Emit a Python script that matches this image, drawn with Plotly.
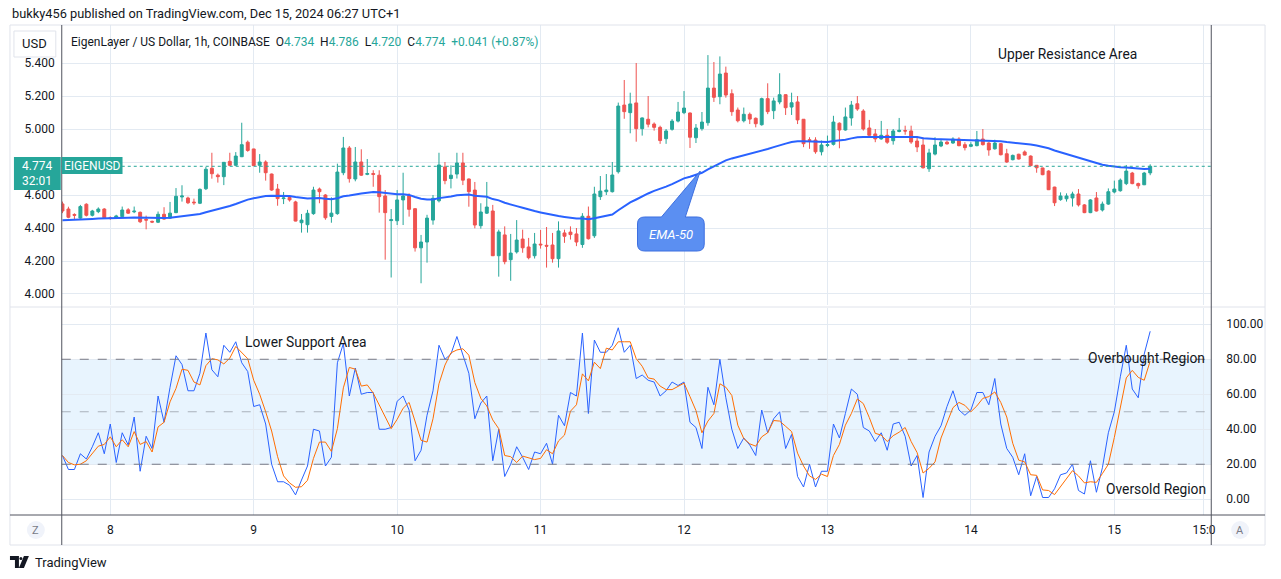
import numpy as np
import pandas as pd
import plotly.graph_objects as go

W, H = 1281, 579
def px(x): return x / W
def py(y): return 1 - y / H

# ---------------- data ----------------
start_time = "2024-12-07 16:00"

open_ = [4.546,4.515,4.482,4.46,4.544,4.477,4.499,4.515,4.462,4.459,4.469,4.51,4.498,4.495,4.452,4.44,4.435,4.483,4.46,4.493,
 4.588,4.582,4.557,4.55,4.638,4.762,4.72,4.711,4.804,4.78,4.832,4.92,4.879,4.78,4.80,4.727,4.636,4.578,4.585,4.558,
 4.432,4.42,4.487,4.636,4.60,4.47,4.487,4.735,4.885,4.697,4.80,4.725,4.73,4.72,4.594,4.445,4.444,4.57,4.596,4.517,
 4.28,4.315,4.448,4.565,4.77,4.70,4.727,4.794,4.697,4.63,4.414,4.49,4.503,4.232,4.358,4.208,4.255,4.333,4.285,4.232,
 4.302,4.295,4.297,4.214,4.37,4.375,4.364,4.30,4.471,4.353,4.59,4.62,4.62,4.741,5.145,5.099,5.158,5.002,5.059,5.03,
 5.01,4.941,4.998,5.048,5.099,5.097,4.947,5.002,5.038,5.248,5.196,5.339,5.214,5.115,5.05,5.089,5.065,5.026,5.184,5.111,
 5.164,5.208,5.133,5.164,5.059,4.935,4.933,4.862,4.90,4.907,5.035,4.994,5.067,5.153,5.109,5.006,4.97,4.94,4.962,4.929,
 4.985,4.99,4.988,4.927,4.903,4.759,4.848,4.897,4.92,4.915,4.939,4.905,4.895,4.899,4.939,4.915,4.88,4.911,4.85,4.814,
 4.847,4.861,4.836,4.78,4.764,4.745,4.648,4.572,4.577,4.582,4.606,4.54,4.493,4.582,4.509,4.545,4.618,4.626,4.669,4.733,
 4.669,4.662,4.734]
high_ = [4.56,4.529,4.489,4.54,4.55,4.51,4.525,4.52,4.47,4.48,4.53,4.52,4.53,4.50,4.475,4.445,4.50,4.526,4.558,4.642,
 4.659,4.59,4.578,4.64,4.77,4.856,4.73,4.80,4.856,4.86,5.038,4.93,4.88,4.848,4.81,4.73,4.667,4.618,4.59,4.565,
 4.485,4.51,4.65,4.645,4.605,4.586,4.79,4.952,4.897,4.891,4.877,4.818,4.75,4.75,4.63,4.515,4.63,4.735,4.61,4.52,
 4.358,4.48,4.60,4.856,4.80,4.78,4.856,4.856,4.70,4.679,4.55,4.679,4.54,4.39,4.41,4.364,4.448,4.39,4.34,4.37,
 4.388,4.406,4.37,4.44,4.39,4.41,4.40,4.49,4.53,4.65,4.715,4.727,4.80,5.16,5.297,5.22,5.40,5.07,5.20,5.04,
 5.02,5.0,5.06,5.164,5.23,5.10,5.03,5.103,5.448,5.406,5.44,5.378,5.24,5.13,5.13,5.10,5.07,5.19,5.277,5.19,
 5.338,5.21,5.22,5.20,5.06,4.95,4.95,4.93,4.96,5.08,5.04,5.13,5.17,5.20,5.12,5.055,5.0,5.049,5.0,5.0,
 5.067,5.02,5.02,4.95,4.95,4.88,4.95,4.94,4.93,4.95,4.95,4.92,4.92,4.988,5.0,4.92,4.935,4.915,4.88,4.845,
 4.85,4.87,4.84,4.78,4.765,4.75,4.65,4.616,4.61,4.62,4.636,4.545,4.575,4.618,4.56,4.64,4.687,4.70,4.782,4.74,
 4.675,4.74,4.786]
low_ = [4.49,4.459,4.453,4.455,4.47,4.47,4.49,4.455,4.45,4.455,4.462,4.485,4.49,4.43,4.392,4.43,4.43,4.45,4.455,4.49,
 4.56,4.545,4.54,4.545,4.63,4.699,4.675,4.66,4.775,4.775,4.83,4.862,4.775,4.735,4.687,4.625,4.535,4.545,4.56,4.44,
 4.372,4.372,4.48,4.55,4.45,4.432,4.48,4.72,4.675,4.683,4.715,4.72,4.65,4.493,4.208,4.10,4.418,4.418,4.469,4.257,
 4.065,4.19,4.42,4.555,4.665,4.64,4.70,4.66,4.529,4.398,4.396,4.485,4.23,4.105,4.18,4.08,4.245,4.25,4.21,4.215,
 4.275,4.16,4.19,4.16,4.31,4.33,4.29,4.28,4.33,4.34,4.57,4.60,4.615,4.73,5.062,4.974,4.923,4.96,5.01,4.99,
 4.91,4.91,4.99,5.04,5.09,4.885,4.915,4.99,5.02,5.164,5.15,5.19,5.08,5.04,5.04,5.03,5.01,5.02,5.09,5.06,
 5.15,5.085,5.085,5.03,4.89,4.88,4.85,4.84,4.89,4.90,4.883,4.99,5.02,5.11,4.99,4.96,4.92,4.935,4.91,4.905,
 4.98,4.965,4.91,4.86,4.76,4.74,4.84,4.89,4.905,4.91,4.895,4.87,4.89,4.895,4.90,4.838,4.875,4.84,4.795,4.81,
 4.815,4.84,4.775,4.735,4.72,4.63,4.533,4.565,4.56,4.53,4.53,4.49,4.49,4.50,4.50,4.54,4.61,4.62,4.66,4.665,
 4.638,4.66,4.72]
close_ = [4.503,4.465,4.477,4.53,4.477,4.503,4.515,4.462,4.458,4.473,4.509,4.49,4.502,4.438,4.448,4.436,4.483,4.454,4.49,4.592,
 4.594,4.553,4.553,4.634,4.756,4.729,4.711,4.798,4.78,4.836,4.905,4.87,4.778,4.80,4.735,4.63,4.578,4.582,4.57,4.442,
 4.448,4.489,4.63,4.62,4.462,4.49,4.739,4.885,4.699,4.80,4.72,4.73,4.725,4.59,4.493,4.45,4.57,4.594,4.513,4.28,
 4.315,4.46,4.58,4.782,4.687,4.72,4.794,4.69,4.62,4.418,4.497,4.527,4.232,4.376,4.196,4.248,4.327,4.28,4.22,4.303,
 4.298,4.29,4.214,4.382,4.35,4.36,4.315,4.471,4.335,4.606,4.624,4.63,4.721,5.139,5.105,5.152,5.002,5.067,5.029,5.01,
 4.93,4.988,5.048,5.103,5.127,4.95,5.006,5.042,5.248,5.192,5.333,5.206,5.105,5.05,5.089,5.06,5.032,5.184,5.105,5.17,
 5.208,5.129,5.159,5.055,4.911,4.930,4.862,4.903,4.905,5.042,4.994,5.073,5.145,5.121,5.0,4.962,4.94,4.962,4.92,4.988,
 4.992,4.988,4.921,4.891,4.765,4.855,4.903,4.921,4.91,4.939,4.899,4.887,4.905,4.935,4.905,4.873,4.915,4.844,4.80,4.84,
 4.818,4.842,4.778,4.765,4.723,4.632,4.553,4.594,4.594,4.606,4.54,4.493,4.57,4.503,4.545,4.62,4.636,4.69,4.745,4.669,
 4.656,4.733,4.774]

ema_length = 50
ema_seed = 4.445   # EMA value just before the first visible bar

stoch_k = [25,17,17,26,23,30,38,26,43,21,38,31,47,16,36,29,59,44,64,82,
 77,62,62,72,95,74,70,88,84,90,78,73,53,54,43,20,10,10,8,2.5,
 11,19,40,39,19,24,78,89,59,75,60,61,61,40,40,41,56,59,51,22,
 28,48,62,88,80,83,93,82,72,46,55,59,22,40,13,20,30,24,17,27,
 26,32,20,48,42,61,59,95,49,91,84,84,88,98,84,88,69,71,68,67,
 59,62,67,65,67,44,41,29,64,54,80,58,40,29,35,31,25,51,38,46,
 50,29,37,13,7,20,7,16,16,43,35,49,63,60,41,39,33,38,28,43,
 44,36,19,25,1,27,36,42,53,62,51,48,51,61,61,54,69,43,29,24,
 14,26,2,13,1,1,6,14,15,20,5,3,22,4,18,38,50,70,88,63,
 58,83,96]

day_ticks = ["2024-12-08","2024-12-09","2024-12-10","2024-12-11","2024-12-12","2024-12-13","2024-12-14","2024-12-15","2024-12-15 15:00"]
day_labels = ["8","9","10","11","12","13","14","15","15:0"]
price_ticks = [4.0, 4.2, 4.4, 4.6, 4.8, 5.0, 5.2, 5.4]
price_labels = ["4.000", "4.200", "4.400", "4.600", "", "5.000", "5.200", "5.400"]  # 4.800 hidden under last-price tag
stoch_ticks = [0, 20, 40, 60, 80, 100]

last_price = 4.774

# ---------------- derived ----------------
times = pd.date_range(start_time, periods=len(close_), freq="h")
alpha = 2.0 / (ema_length + 1)
ema = []
prev = ema_seed
for c in close_:
    prev = prev + alpha * (c - prev)
    ema.append(prev)
stoch_d = pd.Series(stoch_k).rolling(3, min_periods=1).mean().tolist()

UP, DN = "#26a69a", "#ef5350"
GRID = "#e3eaf2"
TXT = "#131722"
FONT = "Roboto"

x_start = pd.Timestamp(start_time) - pd.Timedelta(minutes=7)
x_end = pd.Timestamp("2024-12-15 16:13")

fig = go.Figure()
fig.add_trace(go.Candlestick(
    x=times, open=open_, high=high_, low=low_, close=close_,
    increasing=dict(line=dict(color=UP, width=1), fillcolor=UP),
    decreasing=dict(line=dict(color=DN, width=1), fillcolor=DN),
    whiskerwidth=0, xaxis="x", yaxis="y", hoverinfo="skip", showlegend=False))
fig.add_trace(go.Scatter(x=times, y=ema, mode="lines", line=dict(color="#2962ff", width=2),
                         xaxis="x", yaxis="y", hoverinfo="skip"))
fig.add_trace(go.Scatter(x=times, y=stoch_k, mode="lines", line=dict(color="#2962ff", width=1),
                         xaxis="x2", yaxis="y2", hoverinfo="skip"))
fig.add_trace(go.Scatter(x=times, y=stoch_d, mode="lines", line=dict(color="#ff6d00", width=1),
                         xaxis="x2", yaxis="y2", hoverinfo="skip"))

shapes = []
# stochastic band
shapes.append(dict(type="rect", xref="paper", yref="y2", x0=px(62), x1=px(1216), y0=20, y1=80,
                   fillcolor="rgba(33,150,243,0.1)", line=dict(width=0), layer="below"))
for lvl, col in [(80, "#787b86"), (20, "#787b86"), (50, "rgba(120,123,134,0.55)")]:
    shapes.append(dict(type="line", xref="paper", yref="y2", x0=px(62), x1=px(1216), y0=lvl, y1=lvl,
                       line=dict(color=col, width=1, dash="dash")))
# last price dotted line
shapes.append(dict(type="line", xref="paper", yref="y", x0=px(62), x1=px(1216), y0=last_price, y1=last_price,
                   line=dict(color=UP, width=1, dash="dot")))
# frame
shapes.append(dict(type="rect", xref="paper", yref="paper", x0=px(10), x1=px(1270), y0=py(545), y1=py(25),
                   line=dict(color="#e0e3eb", width=1), fillcolor="rgba(0,0,0,0)"))
# pane separators
shapes.append(dict(type="line", xref="paper", yref="paper", x0=px(10), x1=px(1270), y0=py(307), y1=py(307),
                   line=dict(color="#e0e3eb", width=1)))
shapes.append(dict(type="line", xref="paper", yref="paper", x0=px(10), x1=px(1270), y0=py(515), y1=py(515),
                   line=dict(color="#50535e", width=1)))
shapes.append(dict(type="line", xref="paper", yref="paper", x0=px(62), x1=px(62), y0=py(545), y1=py(25),
                   line=dict(color="#50535e", width=1)))
shapes.append(dict(type="line", xref="paper", yref="paper", x0=px(1216), x1=px(1216), y0=py(545), y1=py(25),
                   line=dict(color="#50535e", width=1)))

def P(x, y):
    return f"{px(x):.5f},{py(y):.5f}"

# EMA-50 callout
callout = ("M " + P(647, 217) + " L " + P(664, 217) + " L " + P(703, 171) + " L " + P(688, 217) +
           " L " + P(700, 217) + " Q " + P(707, 217) + " " + P(707, 224) + " L " + P(707, 244) +
           " Q " + P(707, 251) + " " + P(700, 251) + " L " + P(647, 251) + " Q " + P(640, 251) + " " + P(640, 244) +
           " L " + P(640, 224) + " Q " + P(640, 217) + " " + P(647, 217) + " Z")
shapes.append(dict(type="path", xref="paper", yref="paper", path=callout,
                   fillcolor="#5b8ff2", line=dict(color="#3d6fe0", width=1)))
# price label boxes
shapes.append(dict(type="rect", xref="paper", yref="paper", x0=px(14), x1=px(61), y0=py(190), y1=py(157),
                   fillcolor=UP, line=dict(width=0)))
shapes.append(dict(type="rect", xref="paper", yref="paper", x0=px(62), x1=px(123), y0=py(174), y1=py(157),
                   fillcolor=UP, line=dict(width=0)))
# USD box
shapes.append(dict(type="rect", xref="paper", yref="paper", x0=px(14), x1=px(56), y0=py(57), y1=py(31),
                   fillcolor="white", line=dict(color="#e0e3eb", width=1)))
# Z / A buttons
for cx in (36, 1245):
    shapes.append(dict(type="circle", xref="paper", yref="paper", x0=px(cx - 9), x1=px(cx + 9),
                       y0=py(539), y1=py(521), fillcolor="#f0f3fa", line=dict(width=0)))
# TradingView logo glyph
shapes.append(dict(type="path", xref="paper", yref="paper",
                   path="M " + P(10, 556) + " L " + P(19, 556) + " L " + P(19, 568) + " L " + P(15, 568) +
                        " L " + P(15, 560) + " L " + P(10, 560) + " Z", fillcolor=TXT, line=dict(width=0)))
shapes.append(dict(type="circle", xref="paper", yref="paper", x0=px(19.5), x1=px(22.5), y0=py(560), y1=py(557),
                   fillcolor=TXT, line=dict(width=0)))
shapes.append(dict(type="path", xref="paper", yref="paper",
                   path="M " + P(24, 556) + " L " + P(29, 556) + " L " + P(24, 568) + " L " + P(19, 568) + " Z",
                   fillcolor=TXT, line=dict(width=0)))

def ann(x, y, text, size=12, color=TXT, xanchor="left", **kw):
    return dict(x=px(x), y=py(y), xref="paper", yref="paper", text=text, showarrow=False,
                xanchor=xanchor, yanchor="middle", font=dict(family=FONT, size=size, color=color), **kw)

g = lambda s: f'<span style="color:{UP}">{s}</span>'
nb = "\u00a0"
legend_txt = ("EigenLayer / US Dollar, 1h, COINBASE" + nb * 2 + "O" + g("4.734") + nb * 2 + "H" + g("4.786") +
              nb * 2 + "L" + g("4.720") + nb * 2 + "C" + g("4.774") + nb * 2 + g("+0.041 (+0.87%)"))

annotations = [
    ann(10, 13, "bukky456 published on TradingView.com, Dec 15, 2024 06:27 UTC+1", size=12.8),
    ann(35, 44, "USD", size=13, xanchor="center"),
    ann(69, 42, legend_txt, size=12),
    ann(1000, 54, "Upper Resistance Area", size=13.8),
    ann(244, 342, "Lower Support Area", size=13.8),
    ann(1090, 358, "Overbought Region", size=13.8),
    ann(1108, 489, "Oversold Region", size=13.8),
    ann(673.5, 234.5, "<i>EMA-50</i>", size=13, color="white", xanchor="center"),
    ann(37.5, 165.5, "4.774", size=12, color="white", xanchor="center"),
    ann(37.5, 181, "32:01", size=12, color="white", xanchor="center"),
    ann(92.5, 165.5, "EIGENUSD", size=12, color="white", xanchor="center"),
    ann(36, 530, "Z", size=11, color="#787b86", xanchor="center"),
    ann(1245, 530, "A", size=11, color="#787b86", xanchor="center"),
    ann(33, 562, "TradingView", size=13),
]

fig.update_layout(
    width=W, height=H, margin=dict(l=0, r=0, t=0, b=0),
    paper_bgcolor="white", plot_bgcolor="white", showlegend=False,
    font=dict(family=FONT, size=12, color=TXT),
    xaxis=dict(domain=[px(62), px(1216)], anchor="y", type="date", range=[x_start, x_end],
               tickvals=day_ticks, showticklabels=False, showgrid=True, gridcolor=GRID,
               zeroline=False, showline=False, rangeslider=dict(visible=False), fixedrange=True),
    yaxis=dict(domain=[py(305), py(25)], anchor="x", side="left", range=[3.9333, 5.6303],
               tickvals=price_ticks, ticktext=price_labels,
               showgrid=True, gridcolor=GRID, zeroline=False, ticks="", ticklabelstandoff=6,
               tickfont=dict(size=12, color=TXT)),
    xaxis2=dict(domain=[px(62), px(1216)], anchor="y2", type="date", matches="x", range=[x_start, x_end],
                tickvals=day_ticks, ticktext=day_labels, showgrid=True, gridcolor=GRID,
                zeroline=False, showline=False, ticks="", ticklabelstandoff=6,
                tickfont=dict(size=12, color=TXT)),
    yaxis2=dict(domain=[py(515), py(308)], anchor="x2", side="right", range=[-9, 109.3],
                tickvals=stoch_ticks, ticktext=[f"{v:.2f}" for v in stoch_ticks],
                showgrid=True, gridcolor=GRID, zeroline=False, ticks="", ticklabelstandoff=14,
                tickfont=dict(size=12, color=TXT)),
    shapes=shapes, annotations=annotations,
)

fig.write_html("out.html")
